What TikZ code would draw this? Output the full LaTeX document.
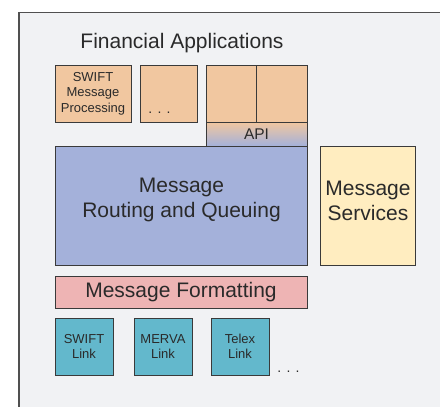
\documentclass[tikz,border=0pt]{standalone}
\usepackage{fontspec}
\setmainfont{Liberation Sans}
\definecolor{panelbg}{HTML}{F1F2F4}
\definecolor{panelline}{HTML}{505050}
\definecolor{boxline}{HTML}{3A3A3A}
\definecolor{appfill}{HTML}{F1C7A0}
\definecolor{routefill}{HTML}{A4B1DA}
\definecolor{servfill}{HTML}{FFEDC0}
\definecolor{fmtfill}{HTML}{EEB4B4}
\definecolor{linkfill}{HTML}{63B8CC}
\definecolor{txt}{HTML}{2A2A2A}
\tikzset{
  boxbase/.style={draw=boxline, line width=0.9pt, rectangle, inner sep=0pt,
    outer sep=0pt, anchor=north west, text=txt, align=center},
  bigfont/.style={font=\fontsize{21}{25}\selectfont, text=txt, align=center},
  smallfont/.style={font=\fontsize{13}{15.5}\selectfont},
  dotsfont/.style={font=\fontsize{14}{16}\selectfont, text=txt},
  appbox/.style={boxbase, fill=appfill, smallfont},
  linkbox/.style={boxbase, fill=linkfill, smallfont, minimum width=58pt, minimum height=57pt},
}
\begin{document}
\begin{tikzpicture}[x=1pt,y=-1pt]
\useasboundingbox (0,0) rectangle (440,407);
\clip (0,0) rectangle (440,407);
% outer panel
\path[fill=panelbg, draw=panelline, line width=1.4pt] (19,12.5) rectangle (450,420);
\node[bigfont, anchor=base] (title) at (182,48) {Financial Applications};
% application boxes
\node[appbox, minimum width=76pt, minimum height=57pt] (swiftapp) at (55,65)
  {SWIFT\\Message\\Processing};
\node[appbox, minimum width=57pt, minimum height=57pt] (otherapp) at (140,65) {};
\node[dotsfont, anchor=base] (otherdots) at (159.5,113.5) {. . .};
\node[appbox, minimum width=50pt, minimum height=57pt] (appleft) at (206,65) {};
\node[appbox, minimum width=51pt, minimum height=57pt] (appright) at (256,65) {};
\node[boxbase, top color=appfill, bottom color=routefill, minimum width=101pt,
  minimum height=24pt, font=\fontsize{15.5}{18}\selectfont] (api) at (206,122) {API};
% routing and services
\node[boxbase, fill=routefill, minimum width=252pt, minimum height=119pt] (route) at (55,146) {};
\node[bigfont] (routetext) at (181.5,200) {Message\\Routing and Queuing};
\node[boxbase, fill=servfill, minimum width=95pt, minimum height=119pt] (serv) at (320.5,146) {};
\node[bigfont] (servtext) at (368,200.7) {Message\\Services};
% formatting layer
\node[boxbase, fill=fmtfill, minimum width=252pt, minimum height=32pt, bigfont] (fmt) at (55,276)
  {Message Formatting};
% network links
\node[linkbox] (swiftlink) at (55,318) {SWIFT\\Link};
\node[linkbox] (mervalink) at (134,318) {MERVA\\Link};
\node[linkbox] (telexlink) at (211,318) {Telex\\Link};
\node[dotsfont, anchor=base] (linkdots) at (288.5,372.5) {. . .};
\end{tikzpicture}
\end{document}
